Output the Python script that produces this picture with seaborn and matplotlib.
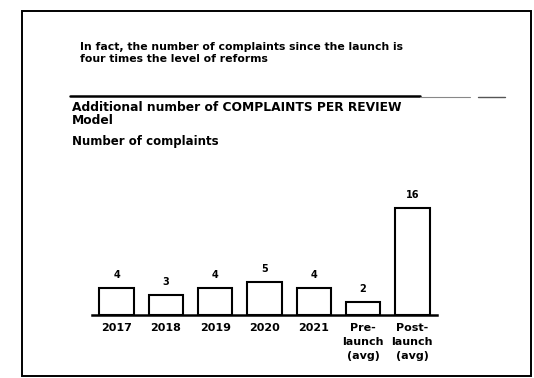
import matplotlib.pyplot as plt
import matplotlib.patches as mpatches
from matplotlib.lines import Line2D
import seaborn as sns
import pandas as pd

categories = ["2017", "2018", "2019", "2020", "2021",
              "Pre-\nlaunch\n(avg)", "Post-\nlaunch\n(avg)"]
complaints = [4, 3, 4, 5, 4, 2, 16]

intro_text = ("In fact, the number of complaints since the launch is\n"
              "four times the level of reforms")
heading = "Additional number of COMPLAINTS PER REVIEW\nModel"
subheading = "Number of complaints"

W, H = 534, 378


def fx(px):
    return px / W


def fy(py):
    return 1 - py / H


sns.set_theme(style="white")
plt.rcParams['font.family'] = ['DejaVu Sans']
plt.rcParams['text.color'] = 'black'

fig = plt.figure(figsize=(W / 100, H / 100), dpi=100)
fig.patch.set_facecolor("white")

# slide frame
frame = mpatches.Rectangle((fx(22), fy(376)), fx(531) - fx(22), fy(11) - fy(376),
                           transform=fig.transFigure, fill=False,
                           edgecolor="black", linewidth=1.4)
fig.add_artist(frame)

fig.text(fx(80), fy(53), intro_text, fontsize=7.8, fontweight="bold",
         va="center", ha="left", linespacing=1.35)

# rule under the intro
fig.add_artist(Line2D([fx(70), fx(420)], [fy(96), fy(96)],
                      transform=fig.transFigure, color="black", lw=1.8))
fig.add_artist(Line2D([fx(420), fx(470)], [fy(97), fy(97)],
                      transform=fig.transFigure, color="#888888", lw=0.8))
fig.add_artist(Line2D([fx(478), fx(505)], [fy(97), fy(97)],
                      transform=fig.transFigure, color="#555555", lw=1.0))

fig.text(fx(72), fy(114), heading, fontsize=8.8, fontweight="bold",
         va="center", ha="left", linespacing=1.05)
fig.text(fx(72), fy(142), subheading, fontsize=8.5, fontweight="bold",
         va="center", ha="left")

df = pd.DataFrame({"category": categories, "complaints": complaints})

ax = fig.add_axes([fx(92), fy(315), fx(437) - fx(92), fy(195) - fy(315)])
sns.barplot(data=df, x="category", y="complaints", ax=ax,
            color="white", edgecolor="black", linewidth=1.5, width=0.7)
ax.set_ylim(0, 18)
ax.set_xlim(-0.5, len(categories) - 0.5)
for i, v in enumerate(complaints):
    ax.text(i, v + 1.2, str(v), ha="center", va="bottom",
            fontsize=7, fontweight="bold", color="black")

ax.set_xlabel("")
ax.set_ylabel("")
ax.set_yticks([])
ax.tick_params(axis="x", length=0, pad=6)
for lbl in ax.get_xticklabels():
    lbl.set_fontsize(8)
    lbl.set_fontweight("bold")
    lbl.set_color("black")
    lbl.set_va("top")
    lbl.set_linespacing(1.5)
for side in ["top", "left", "right"]:
    ax.spines[side].set_visible(False)
ax.spines["bottom"].set_color("black")
ax.spines["bottom"].set_linewidth(1.8)
ax.set_facecolor("none")

fig.savefig("out.png", dpi=100)
